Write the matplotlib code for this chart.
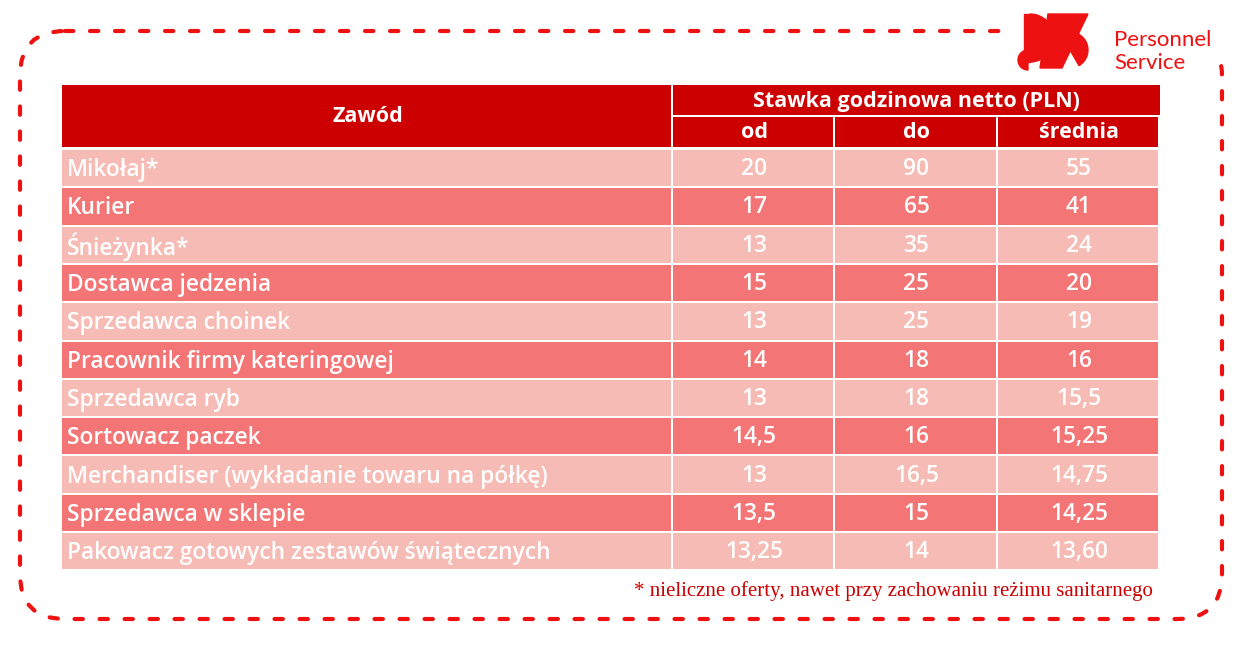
import matplotlib
matplotlib.use("Agg")
import matplotlib.pyplot as plt
from matplotlib.patches import Rectangle, FancyBboxPatch, Wedge, Polygon

zawody = ["Mikołaj*", "Kurier", "Śnieżynka*", "Dostawca jedzenia", "Sprzedawca choinek",
          "Pracownik firmy kateringowej", "Sprzedawca ryb", "Sortowacz paczek",
          "Merchandiser (wykładanie towaru na półkę)", "Sprzedawca w sklepie",
          "Pakowacz gotowych zestawów świątecznych"]
od = ["20", "17", "13", "15", "13", "14", "13", "14,5", "13", "13,5", "13,25"]
do = ["90", "65", "35", "25", "25", "18", "18", "16", "16,5", "15", "14"]
srednia = ["55", "41", "24", "20", "19", "16", "15,5", "15,25", "14,75", "14,25", "13,60"]
col_headers = ["od", "do", "średnia"]

RED = "#CC0000"; LIGHT = "#F6BBB5"; DARK = "#F47575"
FONT = "Open Sans"

fig = plt.figure(figsize=(12.38, 6.47), dpi=100)
ax = fig.add_axes([0, 0, 1, 1])
ax.set_xlim(0, 1238); ax.set_ylim(647, 0); ax.axis("off")

def cell(x, y, w, h, c):
    ax.add_patch(Rectangle((x, y), w, h, facecolor=c, edgecolor="none", lw=0, zorder=3))

ax.add_patch(FancyBboxPatch((20, 31), 1202, 588, boxstyle="round,pad=0,rounding_size=45",
                            fill=False, ec="#EE1111", lw=3, ls=(0, (2, 4)), capstyle="round"))
ax.add_patch(Rectangle((1005, 0), 233, 60, facecolor="white", edgecolor="none", zorder=2))

xs = [62, 673, 835, 998, 1160]
g = 2
cell(xs[0], 85, xs[1]-xs[0]-g, 64-g, RED)
ax.text((xs[0]+xs[1])/2, 117, "Zawód", ha="center", va="center", color="white",
        fontsize=15.5, fontweight="bold", family=FONT, zorder=4)
cell(xs[1], 85, xs[4]-xs[1], 32-g, RED)
ax.text((xs[1]+xs[4])/2, 101, "Stawka godzinowa netto (PLN)", ha="center", va="center",
        color="white", fontsize=15.5, fontweight="bold", family=FONT, zorder=4)
for j, h in enumerate(col_headers):
    cell(xs[j+1], 117, xs[j+2]-xs[j+1]-g, 32-g, RED)
    ax.text((xs[j+1]+xs[j+2])/2, 133, h, ha="center", va="center", color="white",
            fontsize=15.5, fontweight="bold", family=FONT, zorder=4)

y0 = 150; rh = 38.3
for i in range(len(zawody)):
    c = LIGHT if i % 2 == 0 else DARK
    y = y0 + i*rh
    vals = [od[i], do[i], srednia[i]]
    cell(xs[0], y, xs[1]-xs[0]-g, rh-g, c)
    ax.text(xs[0]+5, y+rh/2+1, zawody[i], ha="left", va="center", color="white",
            fontsize=16.4, fontweight="semibold", family=FONT, zorder=4)
    for j, v in enumerate(vals):
        cell(xs[j+1], y, xs[j+2]-xs[j+1]-g, rh-g, c)
        ax.text((xs[j+1]+xs[j+2])/2, y+rh/2, v, ha="center", va="center", color="white",
                fontsize=16.4, fontweight="semibold", family=FONT, zorder=4)

ax.text(1153, 591, "* nieliczne oferty, nawet przy zachowaniu reżimu sanitarnego",
        ha="right", va="center", color="#CC0000", fontsize=15, family="Liberation Serif")

LR = "#EE1111"
ax.add_patch(Wedge((1030, 38), 24, -90, 90, color=LR, zorder=5))
ax.add_patch(Rectangle((1024, 14), 6, 48, color=LR, zorder=5))
ax.add_patch(Wedge((1028, 60), 10, 90, 270, color=LR, zorder=5))
ax.add_patch(Polygon([[1048, 14], [1088, 14], [1062, 68], [1040, 68]], color=LR, zorder=5))
ax.add_patch(Wedge((1068, 30), 18, 60, 240, color=LR, zorder=5))
ax.add_patch(Wedge((1070, 50), 18, -120, 60, color=LR, zorder=5))
ax.text(1114, 40, "Personnel", ha="left", va="center", color=LR, fontsize=16,
        family="Lato", zorder=5)
ax.text(1114, 63, "Service", ha="left", va="center", color=LR, fontsize=16,
        family="Lato", zorder=5)

fig.savefig("out.png", dpi=100)
